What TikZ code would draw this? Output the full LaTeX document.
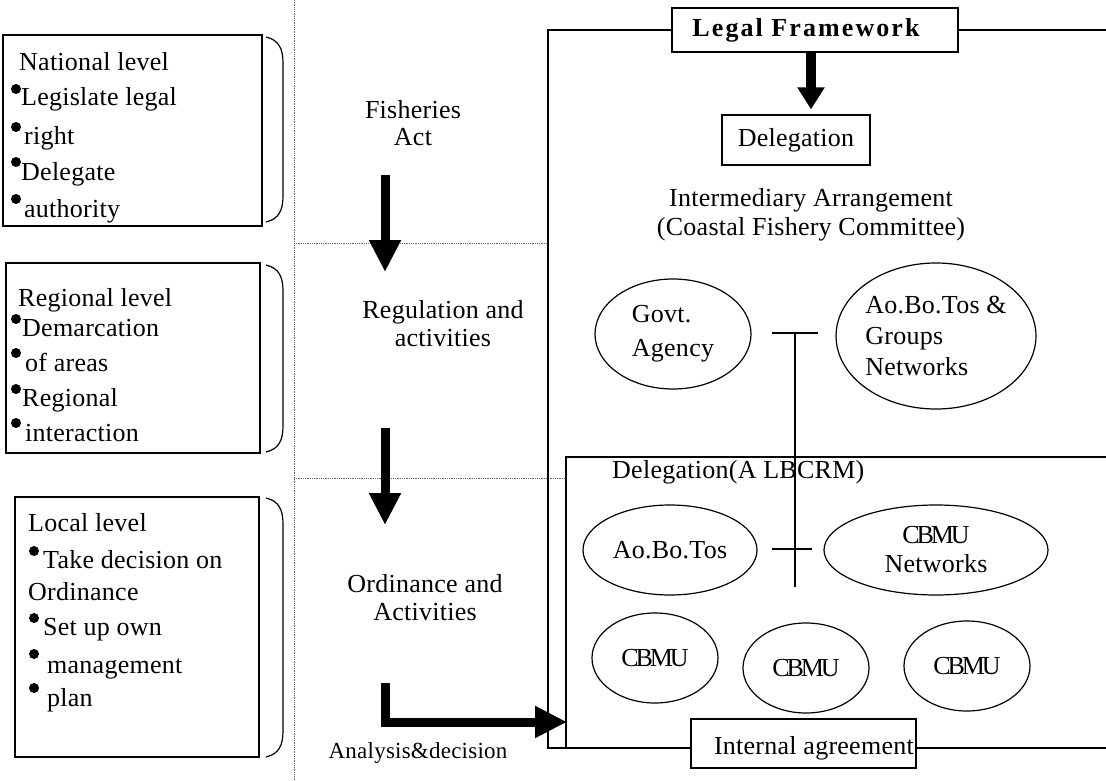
\documentclass[tikz,border=0pt]{standalone}
\usepackage{fontspec}
\setmainfont{Liberation Serif}[LetterSpace=1]
\newfontfamily\tightfont{Liberation Serif}[LetterSpace=-12]
\newfontfamily\widefont{Liberation Serif}[LetterSpace=8]
\usetikzlibrary{arrows.meta,shapes.geometric}

% right-hand round bracket beside a level box
\newcommand{\rbrk}[2]{\draw[bracket] (266,#1) .. controls (279,#1+3) and (283,#1+12) .. (283,#1+26) -- (283,#2-26) .. controls (283,#2-12) and (279,#2-3) .. (266,#2);}
% bullet dot
\newcommand{\bdot}[2]{\fill (#1,#2) circle (5pt);}

\begin{document}
\begin{tikzpicture}[x=1pt,y=-1pt,
  every node/.style={inner sep=0pt, font=\fontsize{26}{30}\selectfont},
  panel/.style={draw, rectangle, line width=1.3pt},
  txt/.style={anchor=base west},
  oval/.style={draw, ellipse, line width=1.2pt, align=center},
  frameline/.style={line width=1.3pt},
  guide/.style={densely dotted, line width=0.8pt, black!60},
  bigarrow/.style={line width=9pt, -{Triangle[width=30pt,length=32pt]}},
  midarrow/.style={line width=10pt, -{Triangle[width=26pt,length=22pt]}},
  bracket/.style={line width=1.2pt},
  link/.style={line width=1.3pt},
]
\fill[white] (0,0) rectangle (1106,781);
\useasboundingbox (0,0) rectangle (1106,781);

% ---------- dotted guides ----------
\coordinate (gvt) at (294,0);
\coordinate (gvb) at (294,781);
\coordinate (g1l) at (294,243);
\coordinate (g1r) at (548,243);
\coordinate (g2l) at (294,478);
\coordinate (g2r) at (566,478);
\draw[guide] (gvt) -- (gvb);
\draw[guide] (g1l) -- (g1r);
\draw[guide] (g2l) -- (g2r);

% ---------- level boxes ----------
\node[panel, minimum width=259pt, minimum height=191pt] (nat) at (132.5,130.5) {};
\node[panel, minimum width=254pt, minimum height=190pt] (reg) at (133,358) {};
\node[panel, minimum width=244pt, minimum height=260pt] (loc) at (137,627) {};
\rbrk{37}{222}
\rbrk{265}{452}
\rbrk{498}{757}

% national level
\node[txt] (n0) at (19,71) {National level};
\node[txt] (n1) at (21,106) {Legislate legal};
\node[txt] (n2) at (24,145) {right};
\node[txt] (n3) at (21,180) {Delegate};
\node[txt] (n4) at (24,217) {authority};
\bdot{16}{89}\bdot{16}{127}\bdot{16}{162}\bdot{16}{199}

% regional level
\node[txt] (r0) at (18,306) {Regional level};
\node[txt] (r1) at (22,336) {Demarcation};
\node[txt] (r2) at (25,371) {of areas};
\node[txt] (r3) at (22,406) {Regional};
\node[txt] (r4) at (25,441) {interaction};
\bdot{16}{319}\bdot{16}{353}\bdot{16}{389}\bdot{16}{423}

% local level
\node[txt] (l0) at (28,531) {Local level};
\node[txt] (l1) at (43,568) {Take decision on};
\node[txt] (l2) at (28,600) {Ordinance};
\node[txt] (l3) at (43,635) {Set up own};
\node[txt] (l4) at (47,673) {management};
\node[txt] (l5) at (47,706) {plan};
\bdot{34}{551}\bdot{34}{618}\bdot{34}{654}\bdot{34}{688}

% ---------- middle column ----------
\node[align=center, font=\fontsize{26}{27}\selectfont] (fish) at (413,123.5) {Fisheries\\Act};
\node[align=center, font=\fontsize{26}{28}\selectfont] (regu) at (443,324) {Regulation and\\activities};
\node[align=center, font=\fontsize{26}{28}\selectfont] (ordi) at (425,598) {Ordinance and\\Activities};
\node[font=\fontsize{23}{26}\selectfont] (anal) at (418,753) {Analysis\&decision};

\coordinate (a1s) at (385,175);
\coordinate (a1e) at (385,272);
\coordinate (a2s) at (385,428);
\coordinate (a2e) at (385,525);
\coordinate (a3s) at (385,683);
\coordinate (a3e) at (567,722);
\draw[bigarrow] (a1s) -- (a1e);
\draw[bigarrow] (a2s) -- (a2e);
\draw[bigarrow, line join=miter] (a3s) |- (a3e);

% ---------- right-hand frames ----------
\coordinate (ftr) at (1106,30);
\coordinate (ftl) at (548,30);
\coordinate (fbl) at (548,748);
\coordinate (fbr) at (1106,748);
\draw[frameline] (ftr) -- (ftl) -- (fbl) -- (fbr);
\coordinate (itr) at (1106,457);
\coordinate (itl) at (566,457);
\coordinate (ibl) at (566,748);
\draw[frameline] (itr) -- (itl) -- (ibl);

\node[panel, fill=white, minimum width=286pt, minimum height=44pt] (lf) at (815,30) {};
\node[font=\fontsize{26}{30}\widefont\bfseries] (lftext) at (806,30) {Legal Framework};
\node[panel, fill=white, minimum width=148pt, minimum height=50pt] (dl) at (796,140) {Delegation};
\draw[midarrow, shorten >=5pt] ([xshift=15pt]dl.north |- lf.south) -- ([xshift=15pt]dl.north);

\node[align=center, font=\fontsize{26}{29}\selectfont] (inter) at (811,214.5)
  {Intermediary Arrangement\\(Coastal Fishery Committee)};

\node[oval, minimum width=156pt, minimum height=110pt, align=left,
      font=\fontsize{26}{34}\selectfont] (govt) at (673,334) {Govt.\\Agency};
\node[oval, minimum width=188pt, minimum height=146pt, align=left,
      font=\fontsize{26}{31}\selectfont] (abtg) at (936,336) {Ao.Bo.Tos \&\\Groups\\Networks};

% link between the committee members and the local units
\coordinate (c1l) at (772,333);
\coordinate (c1r) at (818,333);
\coordinate (cvt) at (795,333);
\coordinate (cvb) at (795,587);
\coordinate (c2l) at (772,549);
\coordinate (c2r) at (812,549);
\draw[link] (c1l) -- (c1r);
\draw[link] (cvt) -- (cvb);
\draw[link] (c2l) -- (c2r);

\node[anchor=west] (albc) at (612,472) {Delegation(A LBCRM)};

\node[oval, minimum width=174pt, minimum height=90pt] (abt) at (670,550) {Ao.Bo.Tos};
\node[oval, minimum width=224pt, minimum height=90pt,
      font=\fontsize{26}{29}\selectfont] (cbn) at (936,550) {{\tightfont CBMU}\\Networks};
\node[oval, minimum width=126pt, minimum height=90pt, font=\fontsize{26}{30}\tightfont] (cb1) at (655,658) {CBMU};
\node[oval, minimum width=126pt, minimum height=90pt, font=\fontsize{26}{30}\tightfont] (cb2) at (806,668) {CBMU};
\node[oval, minimum width=126pt, minimum height=90pt, font=\fontsize{26}{30}\tightfont] (cb3) at (967,666) {CBMU};

\node[panel, fill=white, minimum width=225pt, minimum height=49pt] (ia) at (803.5,743.5) {};
\node[anchor=base east] (iatext) at (914,754) {Internal agreement};
\end{tikzpicture}
\end{document}
